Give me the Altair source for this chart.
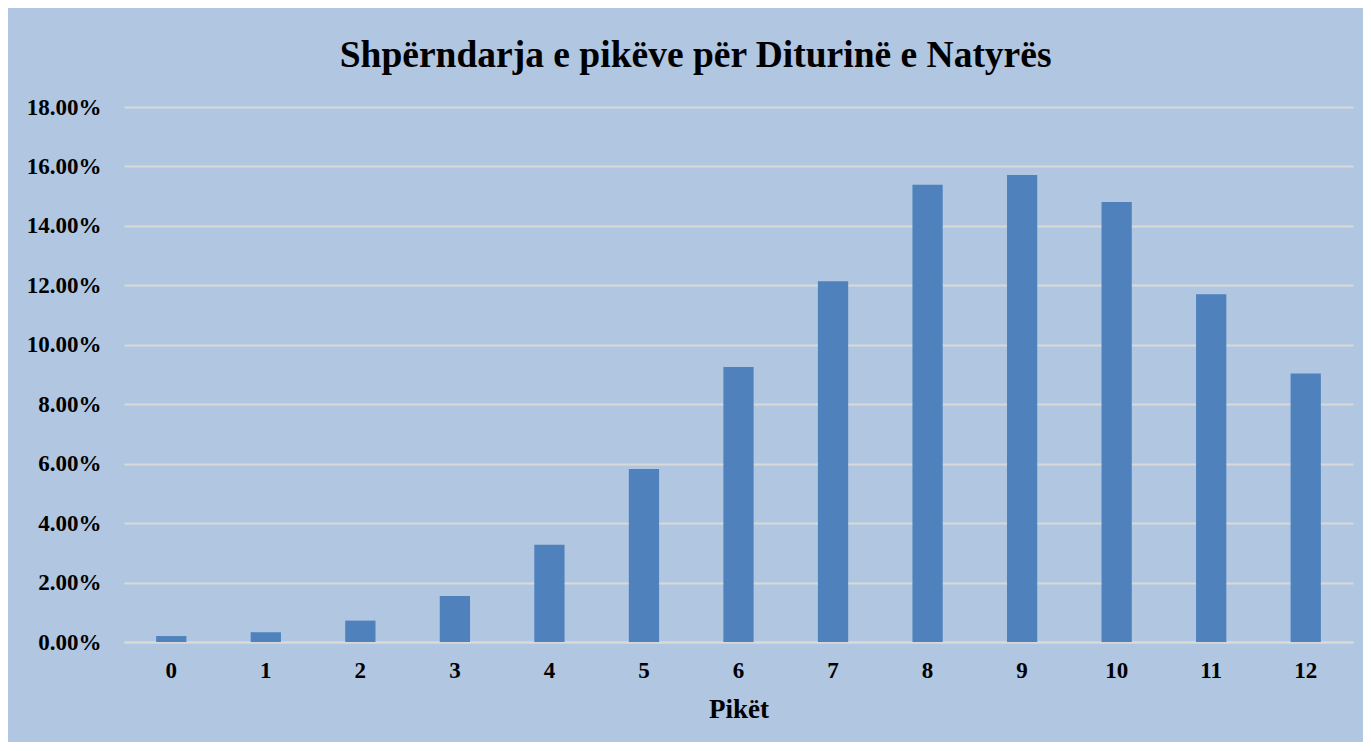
import altair as alt
import pandas as pd

scores = [str(i) for i in range(13)]
shares = [0.0020, 0.0033, 0.0072, 0.0155, 0.0327, 0.0582, 0.0925, 0.1214,
          0.1538, 0.1571, 0.1480, 0.1170, 0.0903]

df = pd.DataFrame({"score": scores, "share": shares})

FONT = "Liberation Serif"

chart = alt.Chart(df).mark_bar(color="#4F81BD").encode(
    x=alt.X("score:N", sort=scores,
            scale=alt.Scale(paddingInner=0.68, paddingOuter=0.34),
            axis=alt.Axis(title="Pikët", labelAngle=0, ticks=False,
                          domainColor="#D9D9D9", domainWidth=2,
                          labelFont=FONT, labelFontWeight="bold", labelFontSize=23,
                          labelColor="black", labelPadding=17,
                          titleFont=FONT, titleFontWeight="bold", titleFontSize=27,
                          titleColor="black", titlePadding=14)),
    y=alt.Y("share:Q",
            scale=alt.Scale(domain=[0, 0.18], nice=False),
            axis=alt.Axis(title=None, format=".2%", values=[i/50 for i in range(10)],
                          ticks=False, domain=False,
                          gridColor="#D9D9D9", gridWidth=2,
                          labelFont=FONT, labelFontWeight="bold", labelFontSize=23,
                          labelColor="black", labelPadding=23)),
).properties(
    width=1229, height=535,
    padding={"left": 116, "top": 99, "right": 10, "bottom": 100},
    autosize=alt.AutoSizeParams(type="none"),
    background="#B0C6E1",
    title=alt.TitleParams("Shpërndarja e pikëve për Diturinë e Natyrës",
                          font=FONT, fontWeight="bold", fontSize=37.5, color="black",
                          anchor="middle", frame="bounds", offset=22, dx=6),
).configure_view(stroke=None)

chart.save("out.html", embed_options={"renderer": "svg", "actions": False})
